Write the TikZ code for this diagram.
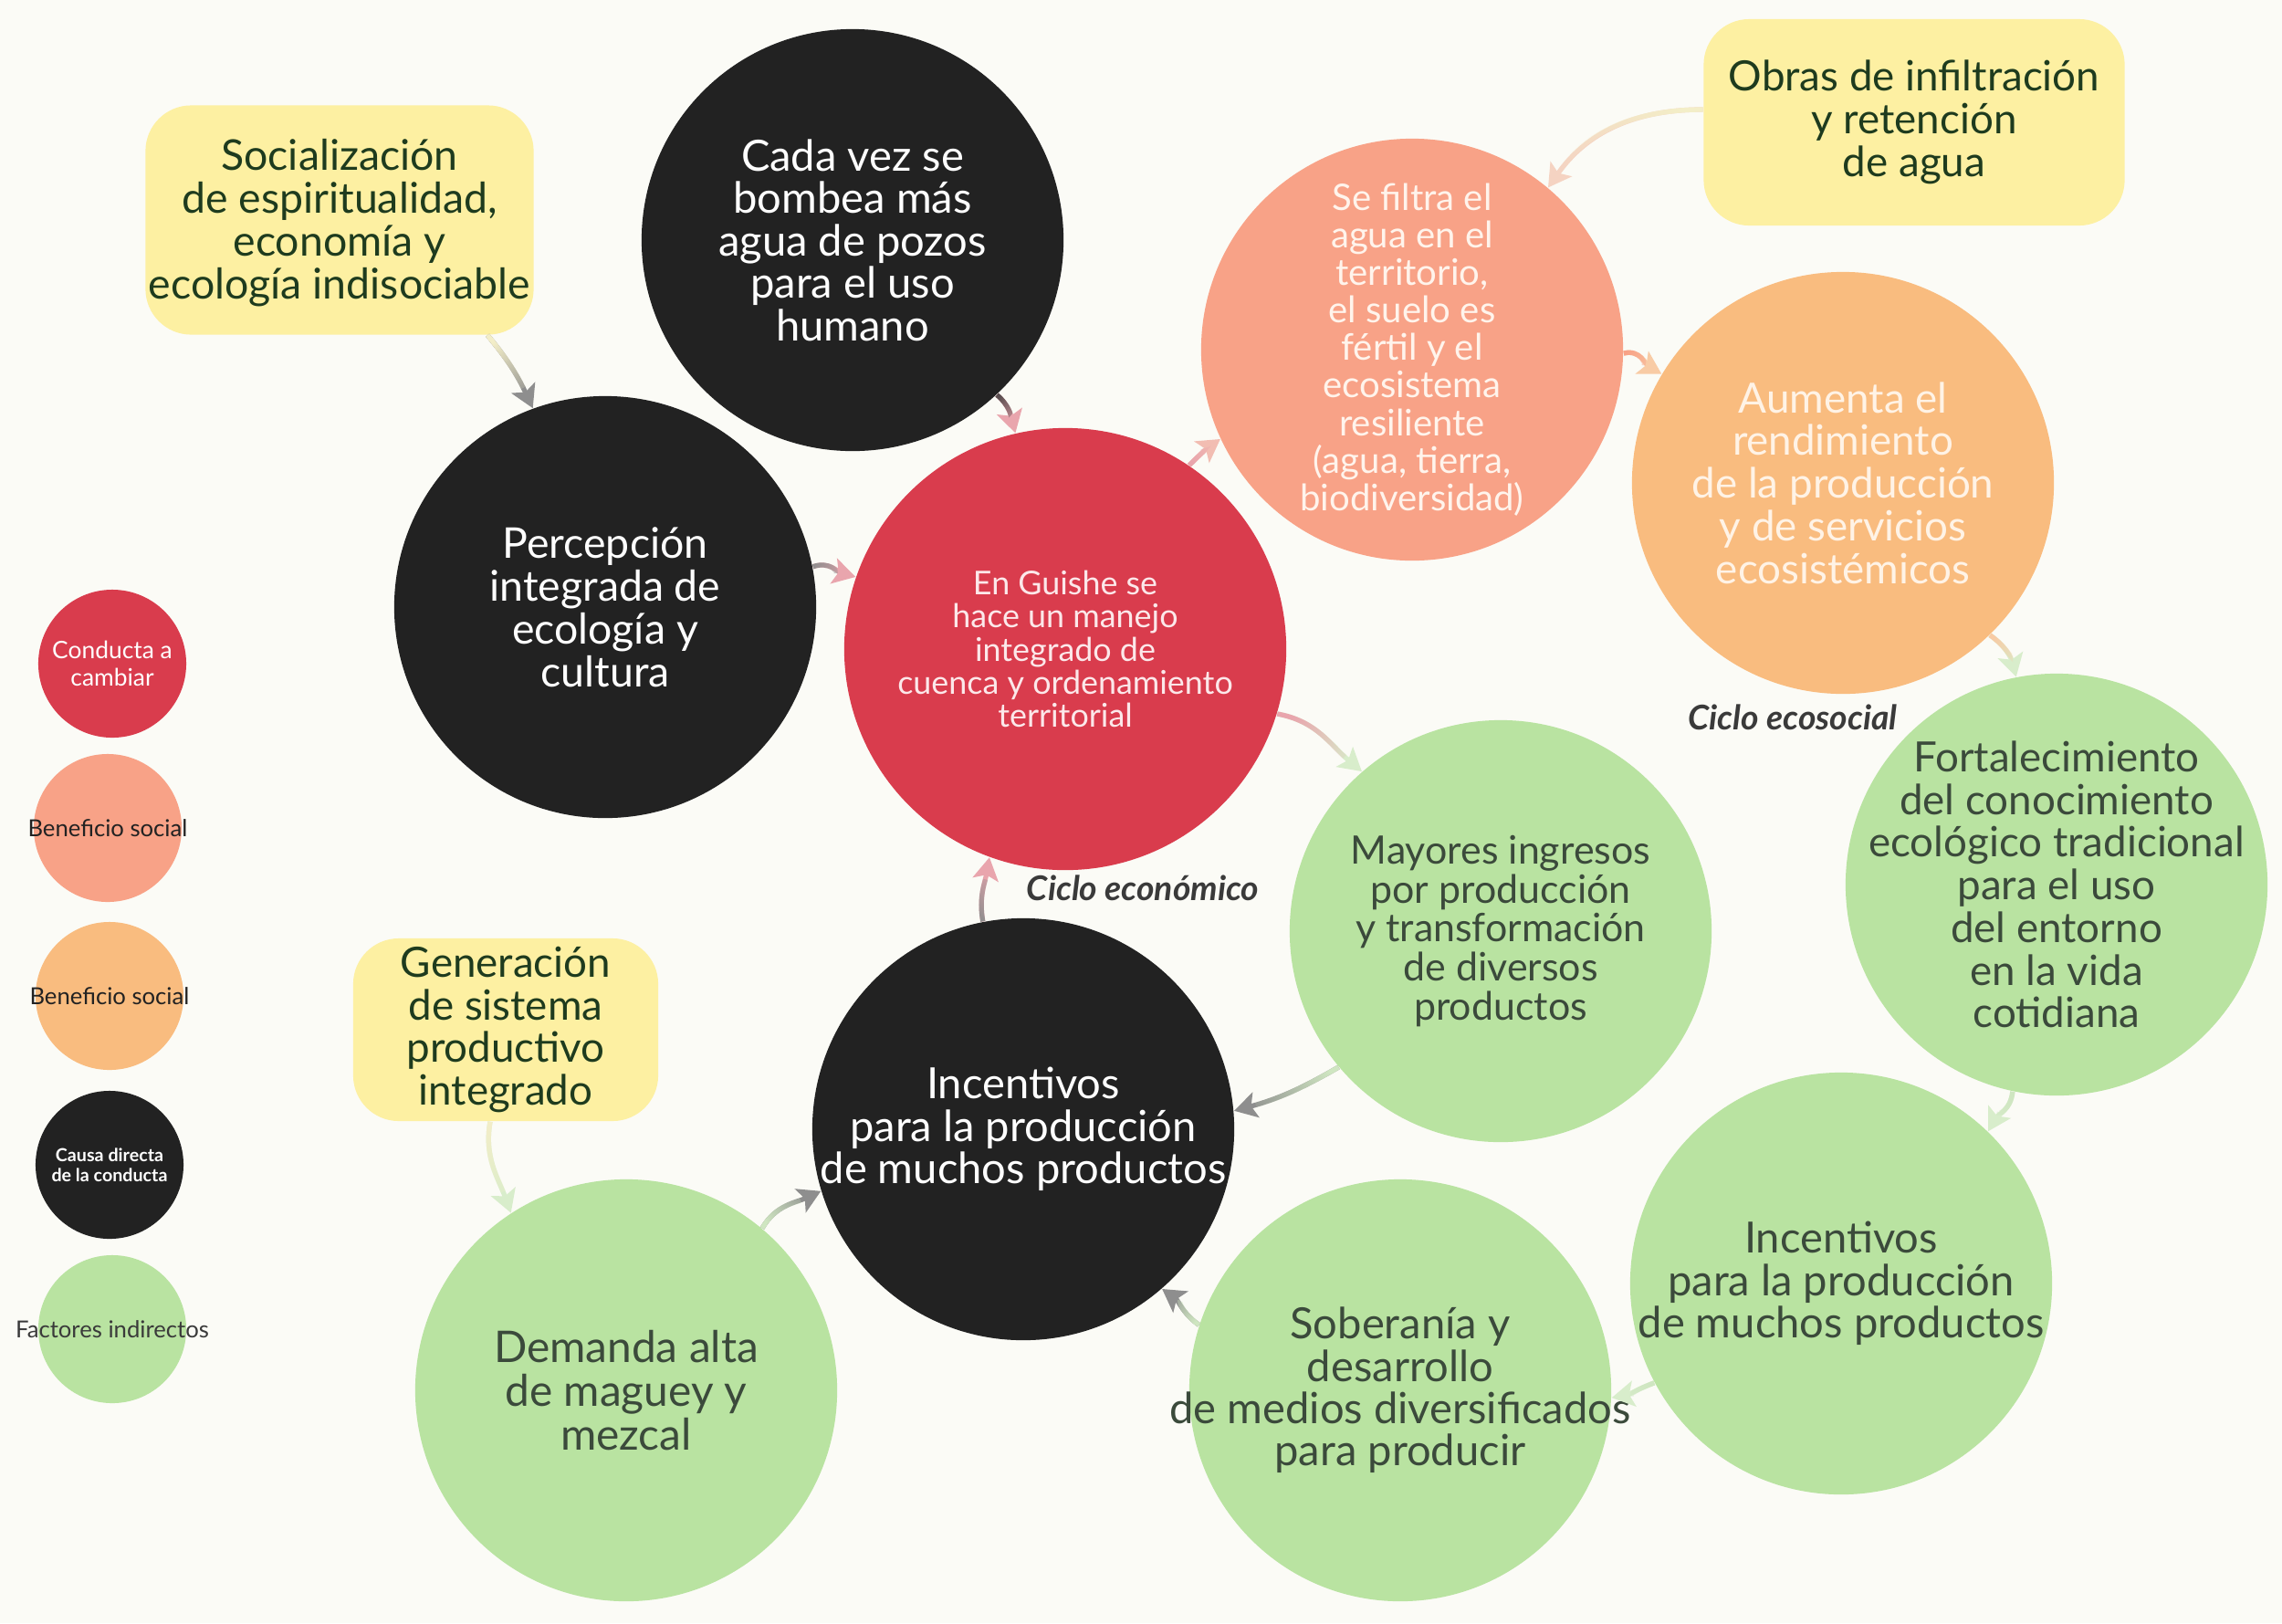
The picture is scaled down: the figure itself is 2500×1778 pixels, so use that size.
\documentclass[tikz,border=0pt]{standalone}
\usepackage{fontspec}
\setmainfont{Lato}
\usetikzlibrary{arrows.meta,fadings}
\definecolor{bg}{HTML}{FBFBF6}
\definecolor{cred}{HTML}{D93C4D}
\definecolor{csal}{HTML}{F8A287}
\definecolor{cora}{HTML}{F9BC7F}
\definecolor{cblk}{HTML}{222222}
\definecolor{cgrn}{HTML}{B9E3A1}
\definecolor{cyel}{HTML}{FDF0A2}
\definecolor{tgrn}{HTML}{3B4A3B}
\definecolor{tyel}{HTML}{1E3B1E}
\definecolor{tred}{HTML}{FCE8EA}
\definecolor{tsal}{HTML}{FFF4EC}
\definecolor{tora}{HTML}{FFF3E6}
\definecolor{tcic}{HTML}{3A3A3A}
\definecolor{agray}{HTML}{8E8E8E}
\definecolor{apink}{HTML}{E9A5AD}
\definecolor{apale}{HTML}{F3EEC8}
\definecolor{apeach}{HTML}{F5D3C2}
\definecolor{asal}{HTML}{F2BDB2}
\definecolor{aora}{HTML}{F8CBA5}
\definecolor{agrn}{HTML}{D8EDCB}
\definecolor{adark}{HTML}{5A4E50}
\definecolor{agrn2}{HTML}{CFE6C1}
\newcommand\gconn[8]{%
  \draw[conn,#6] #1 to[out=#3,in=#4] #2;
  \draw[connline,#5,path fading=east,fading angle=#7,shorten >=#8] #1 to[out=#3,in=#4] #2;
}
\begin{document}
\begin{tikzpicture}[x=0.01cm,y=-0.01cm,
  bub/.style={circle,minimum size=4.62cm,inner sep=0pt,draw=none},
  leg/.style={circle,minimum size=1.62cm,inner sep=0pt,draw=none},
  ybox/.style={rounded corners=0.5cm,fill=cyel,inner sep=0pt,draw=none},
  txt/.style={align=center,inner sep=0pt,font=\fontsize{13}{13.3}\selectfont},
  conn/.style={line width=1.5pt,-{Stealth[length=7pt,width=8pt,inset=1.5pt]}},
  connline/.style={line width=1.5pt},
  cic/.style={inner sep=0pt,text=tcic,font=\fontsize{10.6}{12}\selectfont\bfseries\itshape}]
\fill[bg] (0,0) rectangle (2500,1778);
\useasboundingbox (0,0) rectangle (2500,1778);

% legend
\node[leg,fill=cred] (l1) at (123,727) {};
\node[txt,text=white,font=\fontsize{7.5}{8.4}\selectfont] (l1t) at (l1) {Conducta a\\cambiar};
\node[leg,fill=csal] (l2) at (118,907) {};
\node[txt,text=cblk,font=\fontsize{7.3}{8}\selectfont] (l2t) at (l2) {Beneficio social};
\node[leg,fill=cora] (l3) at (120,1091) {};
\node[txt,text=cblk,font=\fontsize{7.3}{8}\selectfont] (l3t) at (l3) {Beneficio social};
\node[leg,fill=cblk] (l4) at (120,1276) {};
\node[txt,text=white,font=\fontsize{5.6}{6.2}\selectfont\bfseries] (l4t) at (l4) {Causa directa\\de la conducta};
\node[leg,fill=cgrn] (l5) at (123,1456) {};
\node[txt,text=tcic,font=\fontsize{7.3}{8}\selectfont] (l5t) at (l5) {Factores indirectos};

% yellow boxes
\node[ybox,minimum width=4.25cm,minimum height=2.51cm] (soc) at (372,241) {};
\node[txt,text=tyel,font=\fontsize{13.2}{13.4}\selectfont] (soct) at ([yshift=-0.03cm]soc.center) {Socialización\\de espiritualidad,\\economía y\\ecología indisociable};
\node[ybox,minimum width=4.61cm,minimum height=2.26cm] (obras) at (2097,134) {};
\node[txt,text=tyel] (obrast) at (obras) {Obras de infiltración\\y retención\\de agua};
\node[ybox,minimum width=3.34cm,minimum height=2.00cm] (gen) at (554,1128) {};
\node[txt,text=tyel] (gent) at (gen) {Generación\\de sistema\\productivo\\integrado};

% bubbles
\node[bub,fill=cblk] (cada) at (934,263) {};
\node[txt,text=white,font=\fontsize{13.4}{13.2}\selectfont] (cadat) at (cada) {Cada vez se\\bombea más\\agua de pozos\\para el uso\\humano};
\node[bub,fill=cblk] (perc) at (663,665) {};
\node[txt,text=white,font=\fontsize{13.2}{13.4}\selectfont] (perct) at (perc) {Percepción\\integrada de\\ecología y\\cultura};
\node[bub,fill=cred,minimum size=4.84cm] (gui) at (1167,711) {};
\node[txt,text=tred,font=\fontsize{10.2}{10.3}\selectfont] (guit) at (gui) {En Guishe se\\hace un manejo\\integrado de\\cuenca y ordenamiento\\territorial};
\node[bub,fill=csal] (fil) at (1547,383) {};
\node[txt,text=tsal,font=\fontsize{11.4}{11.7}\selectfont] (filt) at (fil) {Se filtra el\\agua en el\\territorio,\\el suelo es\\fértil y el\\ecosistema\\resiliente\\(agua, tierra,\\biodiversidad)};
\node[bub,fill=cora] (aum) at (2019,529) {};
\node[txt,text=tora] (aumt) at (aum) {Aumenta el\\rendimiento\\de la producción\\y de servicios\\ecosistémicos};
\node[bub,fill=cgrn] (fort) at (2253,969) {};
\node[txt,text=tgrn] (fortt) at (fort) {Fortalecimiento\\del conocimiento\\ecológico tradicional\\para el uso\\del entorno\\en la vida\\cotidiana};
\node[bub,fill=cgrn] (may) at (1644,1020) {};
\node[txt,text=tgrn,font=\fontsize{12.2}{12.1}\selectfont] (mayt) at (may) {Mayores ingresos\\por producción\\y transformación\\de diversos\\productos};
\node[bub,fill=cblk] (incb) at (1121,1237) {};
\node[txt,text=white,font=\fontsize{13.4}{13.2}\selectfont] (incbt) at (incb) {Incentivos\\para la producción\\de muchos productos};
\node[bub,fill=cgrn] (incg) at (2017,1406) {};
\node[txt,text=tgrn,font=\fontsize{13.4}{13.2}\selectfont] (incgt) at (incg) {Incentivos\\para la producción\\de muchos productos};
\node[bub,fill=cgrn] (sob) at (1534,1523) {};
\node[txt,text=tgrn,font=\fontsize{13.4}{13.2}\selectfont] (sobt) at (sob) {Soberanía y\\desarrollo\\de medios diversificados\\para producir};
\node[bub,fill=cgrn] (dem) at (686,1523) {};
\node[txt,text=tgrn,font=\fontsize{13.6}{13.7}\selectfont] (demt) at (dem) {Demanda alta\\de maguey y\\mezcal};

% cycle labels
\node[cic] (ce) at (1252,973) {Ciclo económico};
\node[cic] (cs) at (1964,786) {Ciclo ecosocial};

% connectors
\gconn{([xshift=1.62cm]soc.south)}{(perc.110)}{-50}{115}{apale}{agray}{-58}{7pt}
\gconn{(cada.-47)}{(gui.103)}{-40}{105}{adark}{apink}{-64}{7pt}
\gconn{(perc.11)}{(gui.161)}{20}{165}{agray}{apink}{-12}{7pt}
\gconn{(gui.56)}{(fil.205)}{45}{215}{apink}{asal}{39}{7pt}
\gconn{([yshift=0.14cm]obras.west)}{(fil.50)}{180}{55}{apale}{apeach}{-153}{7pt}
\gconn{(fil.-1)}{(aum.149)}{15}{150}{csal}{aora}{-25}{7pt}
\gconn{(aum.-46)}{(fort.101)}{-35}{105}{aora}{agrn}{-60}{7pt}
\gconn{(fort.258)}{(incg.46)}{-95}{60}{agrn2}{agrn}{-125}{7pt}
\gconn{(incg.208)}{(sob.-2)}{200}{10}{agrn2}{agrn}{-161}{7pt}
\gconn{(sob.162)}{(incb.-49)}{145}{-35}{agrn2}{agray}{135}{7pt}
\gconn{(dem.50)}{(incb.197)}{60}{205}{agrn2}{agray}{32}{7pt}
\gconn{([xshift=-0.17cm]gen.south)}{(dem.123)}{-100}{110}{apale}{agrn}{-78}{7pt}
\gconn{(may.220)}{(incb.5)}{210}{15}{agrn2}{agray}{-159}{7pt}
\gconn{(incb.101)}{(gui.250)}{100}{-100}{agray}{apink}{83}{7pt}
\gconn{(gui.-17)}{(may.131)}{-10}{140}{apink}{agrn}{-35}{7pt}
\end{tikzpicture}
\end{document}
